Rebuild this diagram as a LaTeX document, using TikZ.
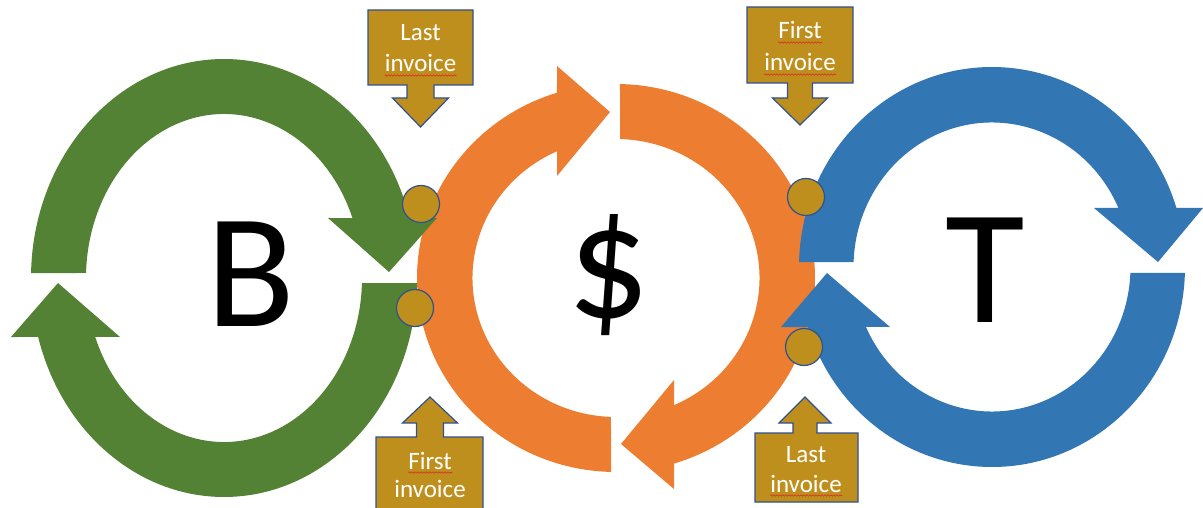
\documentclass[tikz,border=0pt]{standalone}
\usepackage{fontspec}
\newfontfamily\calib{Carlito}
\usetikzlibrary{calc,decorations.pathmorphing}
\definecolor{cgreen}{RGB}{84,130,53}
\definecolor{corange}{RGB}{237,125,49}
\definecolor{cblue}{RGB}{50,118,180}
\definecolor{cgold}{RGB}{191,143,30}
\definecolor{cedge}{RGB}{47,82,143}
\definecolor{csquig}{RGB}{220,40,40}
\tikzset{
  callout/.style={fill=cgold, draw=cedge, line width=1.2pt, line join=miter},
  dot/.style={circle, fill=cgold, draw=cedge, line width=1.2pt, minimum size=37pt, inner sep=0pt},
  ctext/.style={text=white, font=\calib\fontsize{25}{30}\selectfont, inner sep=0pt, anchor=base},
  bigletter/.style={font=\calib\fontsize{163}{170}\selectfont, inner sep=0pt, text=black},
  squig/.style={draw=csquig, line width=0.6pt, decorate, decoration={snake, amplitude=0.7pt, segment length=3pt}}
}
\newcommand\squiggle[1]{\path[squig] ([yshift=-3.5pt]#1.base west) -- ([yshift=-3.5pt]#1.base east);}
\begin{document}
\begin{tikzpicture}[x=1pt,y=1pt]
\useasboundingbox (0,0) rectangle (1203,507);
\clip (0,0) rectangle (1203,507);
% ---------- orange loop ----------
\fill[corange] ($(616,229)+(88.85:199 and 194)$) arc[start angle=88.85, end angle=-73.05, x radius=199, y radius=194]
  -- (674,18) -- (621,63) -- (674,127)
  -- ($(616,229)+(-66.16:143.5 and 139)$) arc[start angle=-66.16, end angle=88.4, x radius=143.5, y radius=139] -- cycle;
\fill[corange] ($(616,229)+(-91.44:199 and 194)$) arc[start angle=-91.44, end angle=-252.75, x radius=199, y radius=194]
  -- (557,441) -- (610,395) -- (557,331)
  -- ($(616,229)+(-245.72:143.5 and 139)$) arc[start angle=-245.72, end angle=-92.0, x radius=143.5, y radius=139] -- cycle;
% ---------- green loop ----------
\fill[cgreen] ($(224,229)+(178.7:193 and 219)$) arc[start angle=178.7, end angle=15.9, x radius=193, y radius=219]
  -- (437,289) -- (389,235) -- (328,289)
  -- ($(224,229)+(21.46:138 and 164)$) arc[start angle=21.46, end angle=178.25, x radius=138, y radius=164] -- cycle;
\fill[cgreen] ($(224,229)+(-1.31:193 and 219)$) arc[start angle=-1.31, end angle=-164.37, x radius=193, y radius=219]
  -- (11,170) -- (58,224) -- (120,170)
  -- ($(224,229)+(-158.92:138 and 164)$) arc[start angle=-158.92, end angle=-1.75, x radius=138, y radius=164] -- cycle;
% ---------- blue loop ----------
\fill[cblue] ($(992,240)+(178.57:193 and 200)$) arc[start angle=178.57, end angle=17.16, x radius=193, y radius=200]
  -- (1203,299) -- (1158,245) -- (1094,299)
  -- ($(992,240)+(24.1:138.5 and 144.5)$) arc[start angle=24.1, end angle=178.02, x radius=138.5, y radius=144.5] -- cycle;
\fill[cblue] ($(992,240)+(-1.72:193 and 200)$) arc[start angle=-1.72, end angle=-162.54, x radius=193, y radius=200]
  -- (781,180) -- (827,234) -- (890,180)
  -- ($(992,240)+(-155.47:138.5 and 144.5)$) arc[start angle=-155.47, end angle=-2.38, x radius=138.5, y radius=144.5] -- cycle;
% ---------- big letters ----------
\node[bigletter] (B) at (251,232.5) {B};
\node[bigletter] (dollar) at (609,232) {\$};
\node[bigletter] (T) at (985.5,237) {T};
% ---------- dots ----------
\node[dot] (d1) at (421,303) {};
\node[dot] (d2) at (415,199) {};
\node[dot] (d3) at (806,310) {};
\node[dot] (d4) at (804,160) {};
% ---------- callouts ----------
\draw[callout] (368,497) -- (473,497) -- (473,422) -- (434,422) -- (434,409) -- (448.5,409) -- (420.5,380)
  -- (392.5,409) -- (407,409) -- (407,422) -- (368,422) -- cycle;
\draw[callout] (747,500) -- (853,500) -- (853,424) -- (812.5,424) -- (812.5,409) -- (827.5,409) -- (800,382)
  -- (772.5,409) -- (787.5,409) -- (787.5,424) -- (747,424) -- cycle;
\draw[callout] (376,-5) -- (376,70) -- (416.5,70) -- (416.5,84) -- (402.5,84) -- (430,110) -- (457.5,84)
  -- (443.5,84) -- (443.5,70) -- (483,70) -- (483,-5) -- cycle;
\draw[callout] (755,5) -- (755,74) -- (793,74) -- (793,84) -- (779,84) -- (805,110) -- (831,84)
  -- (817,84) -- (817,74) -- (858,74) -- (858,5) -- cycle;
% ---------- callout texts ----------
\node[ctext] (tl1) at (420.5,466) {Last};
\node[ctext] (tl2) at (420.5,435) {invoice};
\node[ctext] (tr1) at (800,468) {First};
\node[ctext] (tr2) at (800,436) {invoice};
\node[ctext] (bl1) at (430,38) {First};
\node[ctext] (bl2) at (430,10) {invoice};
\node[ctext] (br1) at (806,45) {Last};
\node[ctext] (br2) at (806,15) {invoice};
\squiggle{tl2}
\squiggle{tr1}
\squiggle{tr2}
\squiggle{bl1}
\squiggle{br2}
\end{tikzpicture}
\end{document}
